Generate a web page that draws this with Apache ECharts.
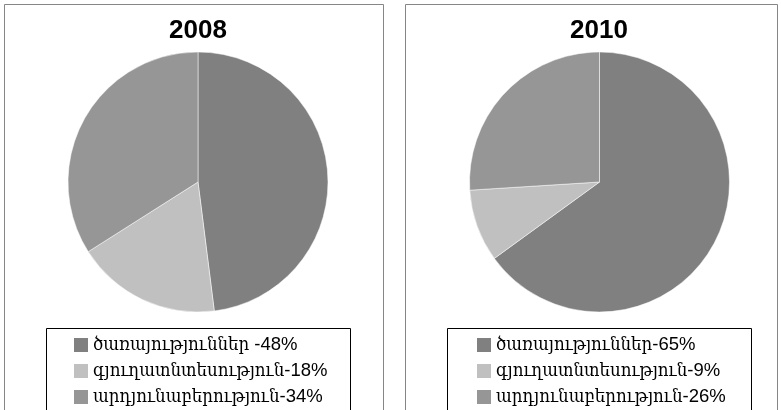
<!DOCTYPE html>
<html>
<head>
<meta charset="utf-8">
<script src="https://cdn.jsdelivr.net/npm/echarts@6/dist/echarts.min.js"></script>
<style>
  html, body { margin: 0; padding: 0; background: #fff; }
  #chart { width: 781px; height: 410px; }
</style>
</head>
<body>
<div id="chart"></div>
<script>
// տվյալներ
const years = ['2008', '2010'];
const labels2008 = ['ծառայություններ -48%', 'գյուղատնտեսություն-18%', 'արդյունաբերություն-34%'];
const labels2010 = ['ծառայություններ-65%', 'գյուղատնտեսություն-9%', 'արդյունաբերություն-26%'];
const values2008 = [48, 18, 34];
const values2010 = [65, 9, 26];
const sliceColors = ['#808080', '#c0c0c0', '#969696'];

const legendFont = "'Liberation Sans', 'DejaVu Serif Condensed', 'DejaVu Serif', sans-serif";

function pieData(labels, values) {
  return labels.map((name, i) => ({
    name: name,
    value: values[i],
    itemStyle: { color: sliceColors[i] }
  }));
}

function legendFor(labels, left) {
  return {
    data: labels,
    orient: 'vertical',
    left: left,
    top: 335,
    padding: 0,
    itemWidth: 14,
    itemHeight: 14,
    itemGap: 6,
    itemTextGap: 4,
    selectedMode: false,
    icon: 'rect',
    itemStyle: { borderWidth: 0 },
    textStyle: { fontFamily: legendFont, fontSize: 18.5, lineHeight: 20, color: '#000' }
  };
}

const chart = echarts.init(document.getElementById('chart'));

const option = {
  backgroundColor: '#fff',
  animation: false,
  title: [
    { text: years[0], left: 198, top: 18, padding: 0, textAlign: 'center',
      textStyle: { fontFamily: "'Liberation Sans', sans-serif", fontWeight: 'bold', fontSize: 26, color: '#000' } },
    { text: years[1], left: 599, top: 18, padding: 0, textAlign: 'center',
      textStyle: { fontFamily: "'Liberation Sans', sans-serif", fontWeight: 'bold', fontSize: 26, color: '#000' } }
  ],
  legend: [legendFor(labels2008, 74), legendFor(labels2010, 477)],
  graphic: [
    { type: 'rect', shape: { x: 4.5, y: 4.5, width: 379, height: 420 },
      style: { fill: 'none', stroke: '#868686', lineWidth: 1 }, z: -10 },
    { type: 'rect', shape: { x: 405.5, y: 4.5, width: 372, height: 420 },
      style: { fill: 'none', stroke: '#868686', lineWidth: 1 }, z: -10 },
    { type: 'rect', shape: { x: 46.5, y: 328.5, width: 304, height: 100 },
      style: { fill: 'none', stroke: '#000', lineWidth: 1 }, z: -10 },
    { type: 'rect', shape: { x: 447.5, y: 328.5, width: 304, height: 100 },
      style: { fill: 'none', stroke: '#000', lineWidth: 1 }, z: -10 }
  ],
  series: [
    {
      type: 'pie',
      center: [198, 182],
      radius: 130,
      startAngle: 90,
      clockwise: true,
      label: { show: false },
      labelLine: { show: false },
      emphasis: { disabled: true },
      itemStyle: { borderColor: '#fff', borderWidth: 0.5 },
      data: pieData(labels2008, values2008)
    },
    {
      type: 'pie',
      center: [599.5, 182],
      radius: 130,
      startAngle: 90,
      clockwise: true,
      label: { show: false },
      labelLine: { show: false },
      emphasis: { disabled: true },
      itemStyle: { borderColor: '#fff', borderWidth: 0.5 },
      data: pieData(labels2010, values2010)
    }
  ]
};

chart.setOption(option);
</script>
</body>
</html>
